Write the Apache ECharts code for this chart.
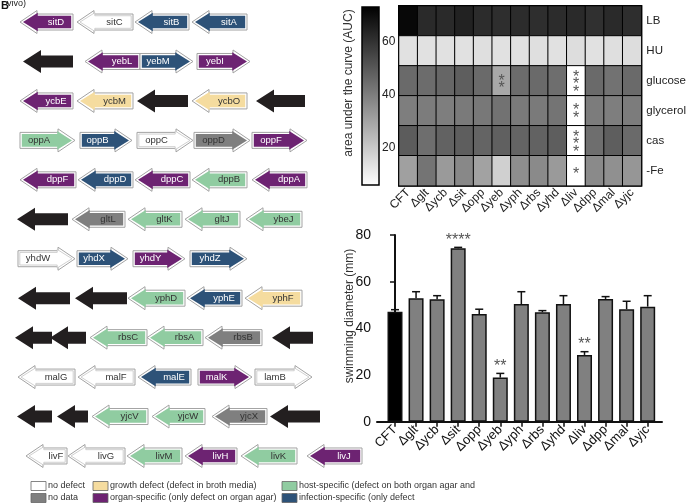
<!DOCTYPE html>
<html><head><meta charset="utf-8">
<script src="https://cdn.jsdelivr.net/npm/echarts@6/dist/echarts.min.js"></script>
<style>html,body{margin:0;padding:0;background:#fff}#c{width:689px;height:504px}</style>
</head><body><div id="c"></div>
<script>
// ---------- DATA ----------
const strains = ['CFT','Δglt','Δycb','Δsit','Δopp','Δyeb','Δyph','Δrbs','Δyhd','Δliv','Δdpp','Δmal','Δyjc'];
const media = ['LB','HU','glucose','glycerol','cas','-Fe'];
const aucLB       = [71, 62, 62, 64, 61.4, 60.9, 61.4, 60.9, 61.4, 62, 60.4, 62, 60.9];
const aucHU       = [14, 14, 14, 14, 14.5, 14, 14, 14.5, 14, 15, 14, 14.5, 15];
const aucGlucose  = [45.1, 44.6, 46.2, 48.3, 45.1, 28.9, 44.6, 45.1, 44.1, 6, 45.1, 43, 45.1];
const aucGlycerol = [39.9, 40.4, 39.9, 40.9, 41.5, 43, 40.9, 40.9, 42.5, 6, 40.4, 39.9, 40.4];
const aucCas      = [48.8, 44.1, 47.2, 48.3, 46.7, 47.8, 46.7, 47.2, 48.3, 6, 44.1, 48.3, 45.1];
const aucFe       = [31, 42.5, 32.5, 37.3, 30.4, 18.3, 35.7, 36.7, 32.5, 6, 36.7, 35.2, 33.6];
const starsLB       = ['','','','','','','','','','','','',''];
const starsHU       = ['','','','','','','','','','','','',''];
const starsGlucose  = ['','','','','','**','','','','***','','',''];
const starsGlycerol = ['','','','','','','','','','**','','',''];
const starsCas      = ['','','','','','','','','','***','','',''];
const starsFe       = ['','','','','','','','','','*','','',''];
const aucTicks = [20, 40, 60];

const swimMean = [47.1, 52.9, 52.5, 74.3, 46.1, 18.9, 50.4, 46.9, 50.4, 28.6, 52.6, 48.2, 49.3];
const swimErr  = [0.9, 2.8, 1.5, 0.4, 2.1, 1.8, 5.3, 0.7, 3.6, 1.4, 1.0, 3.4, 4.7];
const swimSig  = ['','','','****','','**','','','','**','','',''];

// gene tracks: [name, start, end, strand(-1 left / 1 right), class]
const opSit = [['sitD',20,73,-1,'organ'],['sitC',77,133,-1,'none'],['sitB',135,189,-1,'infection'],['sitA',192,247,-1,'infection']];
const opYeb = [['',23,73,-1,'flank'],['yebL',85,140,-1,'organ'],['yebM',140,193,1,'infection'],['yebI',197,250,1,'organ']];
const opYcb = [['ycbE',20,73,-1,'organ'],['ycbM',77,133,-1,'growth'],['',137,188,-1,'flank'],['ycbO',192,247,-1,'growth'],['',256,305,-1,'flank']];
const opOpp = [['oppA',20,75,1,'host'],['oppB',80,132,1,'infection'],['oppC',137,193,1,'none'],['oppD',194,250,1,'nodata'],['oppF',252,307,1,'organ']];
const opDpp = [['dppF',20,76,-1,'organ'],['dppD',78,133,-1,'infection'],['dppC',135,190,-1,'organ'],['dppB',192,247,-1,'host'],['dppA',252,307,-1,'organ']];
const opGlt = [['',17,68,-1,'flank'],['gltL',72,125,-1,'nodata'],['gltK',128,182,-1,'host'],['gltJ',185,240,-1,'host'],['ybeJ',246,302,-1,'host']];
const opYhd = [['yhdW',18,75,1,'none'],['yhdX',77,128,1,'infection'],['yhdY',133,185,1,'organ'],['yhdZ',190,247,1,'infection']];
const opYph = [['',18,70,-1,'flank'],['',75,127,-1,'flank'],['yphD',128,185,-1,'host'],['yphE',187,242,-1,'infection'],['yphF',245,302,-1,'growth']];
const opRbs = [['',15,52,-1,'flank'],['',50,86,-1,'flank'],['rbsC',90,147,-1,'host'],['rbsA',147,203,-1,'host'],['rbsB',205,262,-1,'nodata'],['',272,313,-1,'flank']];
const opMal = [['malG',18,75,-1,'none'],['malF',78,135,-1,'none'],['malE',138,191,-1,'infection'],['malK',198,252,1,'organ'],['lamB',255,312,1,'none']];
const opYjc = [['',17,52,-1,'flank'],['',57,88,-1,'flank'],['yjcV',92,148,-1,'host'],['yjcW',152,205,-1,'host'],['yjcX',212,267,-1,'nodata'],['',270,320,-1,'flank']];
const opLiv = [['livF',26,67,-1,'none'],['livG',68,125,-1,'none'],['livM',127,182,-1,'host'],['livH',185,237,-1,'organ'],['livK',241,297,-1,'host'],['livJ',307,362,-1,'organ']];
const operonNames = ['sit','yeb','ycb','opp','dpp','glt','yhd','yph','rbs','mal','yjc','liv'];

const legendRow1 = [['none','no defect'],['growth','growth defect (defect in broth media)'],['host','host-specific (defect on both organ agar and']];
const legendRow2 = [['nodata','no data'],['organ','organ-specific (only defect on organ agar)'],['infection','infection-specific (only defect']];

// ---------- STYLE ----------
const classColor = {none:'#ffffff', growth:'#f5dc9f', host:'#90cca1', organ:'#6d2372', infection:'#2d5278', nodata:'#7f7f7f', flank:'#231f20'};
const classText = {none:'#333', growth:'#333', host:'#333', organ:'#fff', infection:'#fff', nodata:'#333', flank:'#fff'};
const FONT = '"Liberation Sans", Arial, sans-serif';

const operons = [opSit,opYeb,opYcb,opOpp,opDpp,opGlt,opYhd,opYph,opRbs,opMal,opYjc,opLiv];
const geneData = [], geneMeta = [];
operons.forEach((op, r) => op.forEach(g => { geneData.push([g[1], r, g[2], g[3]]); geneMeta.push(g); }));

function arrowPts(x0, x1, cy, dir, H, hh, sh) {
  if (dir < 0) { const b = x0 + H; return [[x0,cy],[b,cy-hh],[b,cy-sh],[x1,cy-sh],[x1,cy+sh],[b,cy+sh],[b,cy+hh]]; }
  const b = x1 - H; return [[x1,cy],[b,cy-hh],[b,cy-sh],[x0,cy-sh],[x0,cy+sh],[b,cy+sh],[b,cy+hh]];
}

function renderGene(params, api) {
  const meta = geneMeta[params.dataIndex];
  const p0 = api.coord([api.value(0), api.value(1)]);
  const p1 = api.coord([api.value(2), api.value(1)]);
  const x0 = p0[0], x1 = p1[0], cy = p0[1], dir = api.value(3);
  const cls = meta[4];
  if (cls === 'flank') {
    return {type:'polygon', shape:{points: arrowPts(x0, x1, cy, dir, 18, 11.5, 6)}, style:{fill: classColor.flank}};
  }
  const outer = arrowPts(x0, x1, cy, dir, 17, 11.5, 8);
  const ix0 = dir < 0 ? x0 + 3 : x0 + 1.8, ix1 = dir < 0 ? x1 - 1.8 : x1 - 3;
  const inner = arrowPts(ix0, ix1, cy, dir, 14.8, 9.3, 6.3);
  const tx = dir < 0 ? (x0 + 17 + x1) / 2 + 1 : (x0 + x1 - 17) / 2;
  return {type:'group', children:[
    {type:'polygon', shape:{points: outer}, style:{fill:'#fff', stroke:'#a3a3a3', lineWidth:1}},
    {type:'polygon', shape:{points: inner}, style:{fill: classColor[cls], stroke: cls === 'none' ? '#c4c4c4' : null, lineWidth:0.8}},
    {type:'text', style:{text: meta[0], x: tx, y: cy, align:'center', verticalAlign:'middle', fill: classText[cls], font: '9.5px ' + FONT}}
  ]};
}

const aucRows = [aucLB, aucHU, aucGlucose, aucGlycerol, aucCas, aucFe];
const starRows = [starsLB, starsHU, starsGlucose, starsGlycerol, starsCas, starsFe];
const heatData = [];
aucRows.forEach((row, r) => row.forEach((v, c) => heatData.push([c, r, v])));

const graphics = [
  {type:'text', left:7, top:-1, style:{text:'vivo)', font:'9px ' + FONT, fill:'#222'}},
  {type:'text', left:1, top:0, style:{text:'B', font:'bold 11px ' + FONT, fill:'#111'}},
  {type:'text', x:349, y:83, rotation:Math.PI/2, style:{text:'area under the curve (AUC)', font:'12px ' + FONT, fill:'#333', align:'center', verticalAlign:'middle'}},
  {type:'text', x:350, y:316, rotation:Math.PI/2, style:{text:'swimming diameter (mm)', font:'12px ' + FONT, fill:'#333', align:'center', verticalAlign:'middle'}}
];
const legCols = [31, 93, 282];
[legendRow1, legendRow2].forEach((row, ri) => {
  const y = ri === 0 ? 486 : 498;
  row.forEach((it, ci) => {
    graphics.push({type:'rect', shape:{x:legCols[ci], y:y-4.5, width:15, height:9}, style:{fill:classColor[it[0]], stroke:'#666', lineWidth:0.8}});
    graphics.push({type:'text', x:legCols[ci]+17, y:y, style:{text:it[1], font:'9px ' + FONT, fill:'#333', verticalAlign:'middle'}});
  });
});

const idx = strains.map((_, i) => i);

const option = {
  animation: false,
  backgroundColor: '#fff',
  textStyle: {fontFamily: FONT},
  graphic: graphics,
  visualMap: {type:'continuous', show:false, min:6, max:73, seriesIndex:1, dimension:2, inRange:{color:['#ffffff','#000000']}},
  grid: [
    {left:0, top:2.3, width:400, height:473.4},
    {left:399, top:6, width:246, height:179.7, show:true, borderColor:'#000', borderWidth:2, backgroundColor:'transparent'},
    {left:362, top:7, width:17, height:178},
    {left:377, top:235, width:285, height:186.7}
  ],
  xAxis: [
    {gridIndex:0, type:'value', min:0, max:400, show:false},
    {gridIndex:1, type:'category', data:strains, axisLine:{show:false}, axisTick:{show:false},
     axisLabel:{rotate:45, fontSize:12, color:'#222', margin:5, interval:0}},
    {gridIndex:2, type:'value', min:0, max:1, show:false},
    {gridIndex:3, type:'value', min:-0.855, max:12.68, splitLine:{show:false},
     axisLine:{lineStyle:{color:'#111', width:2}},
     axisTick:{customValues:idx, length:5, lineStyle:{color:'#111', width:1.5}},
     axisLabel:{customValues:idx, formatter:v => strains[Math.round(v)], rotate:45, fontSize:13, color:'#111', margin:6}}
  ],
  yAxis: [
    {gridIndex:0, type:'category', data:operonNames, inverse:true, show:false},
    {gridIndex:1, type:'category', data:media, inverse:true, position:'right', axisLine:{show:false}, axisTick:{show:false},
     axisLabel:{fontSize:11.5, color:'#222', margin:5}},
    {gridIndex:2, type:'value', min:6, max:73, position:'right', splitLine:{show:false}, axisLine:{show:false},
     axisTick:{customValues:aucTicks, length:2, lineStyle:{color:'#222'}},
     axisLabel:{customValues:aucTicks, fontSize:12, color:'#222', margin:3}},
    {gridIndex:3, type:'value', min:0, max:80, interval:20, splitLine:{show:false},
     axisLine:{show:true, lineStyle:{color:'#111', width:2}},
     axisTick:{show:true, length:5, lineStyle:{color:'#111', width:1.5}},
     axisLabel:{fontSize:14, color:'#111', margin:6}}
  ],
  series: [
    {type:'custom', xAxisIndex:0, yAxisIndex:0, data:geneData, encode:{x:[0,2], y:1}, renderItem:renderGene, silent:true, clip:false},
    {type:'heatmap', xAxisIndex:1, yAxisIndex:1, data:heatData, silent:true,
     itemStyle:{borderColor:'#000', borderWidth:1},
     label:{show:true, color:'#555', fontSize:16, lineHeight:7.5, offset:[0,4],
       formatter: p => { const s = starRows[p.value[1]][p.value[0]]; return s ? s.split('').join('\n') : ''; }}},
    {type:'custom', xAxisIndex:2, yAxisIndex:2, data:[[0]], silent:true,
     renderItem:(params, api) => {
       const a = api.coord([0, 73]), b = api.coord([1, 6]);
       return {type:'rect', shape:{x:a[0], y:a[1], width:b[0]-a[0], height:b[1]-a[1]},
         style:{fill:new echarts.graphic.LinearGradient(0,0,0,1,[{offset:0,color:'#000'},{offset:1,color:'#fff'}]), stroke:'#000', lineWidth:1.5}};
     }},
    {type:'bar', xAxisIndex:3, yAxisIndex:3, barWidth:15, silent:true,
     data: swimMean.map((v, i) => ({value:[i, v], itemStyle:{color: i === 0 ? '#000' : '#808080'}})),
     itemStyle:{borderColor:'#111', borderWidth:1.5}},
    {type:'custom', xAxisIndex:3, yAxisIndex:3, silent:true, z:5,
     data: swimMean.map((v, i) => [i, v, swimErr[i]]),
     renderItem:(params, api) => {
       const i = api.value(0), m = api.value(1), e = api.value(2);
       const p0 = api.coord([i, m]), p1 = api.coord([i, m + e]);
       const ch = [
         {type:'line', shape:{x1:p0[0], y1:p0[1], x2:p1[0], y2:p1[1]}, style:{stroke:'#111', lineWidth:1.5}},
         {type:'line', shape:{x1:p1[0]-4, y1:p1[1], x2:p1[0]+4, y2:p1[1]}, style:{stroke:'#111', lineWidth:1.5}}
       ];
       if (swimSig[i]) ch.push({type:'text', style:{text:swimSig[i], x:p1[0], y:p1[1]+1, align:'center', verticalAlign:'bottom', fill:'#555', font:'16px ' + FONT}});
       return {type:'group', children:ch};
     }}
  ]
};
const chart = echarts.init(document.getElementById('c'), null, {renderer:'canvas'});
chart.setOption(option);
</script></body></html>
